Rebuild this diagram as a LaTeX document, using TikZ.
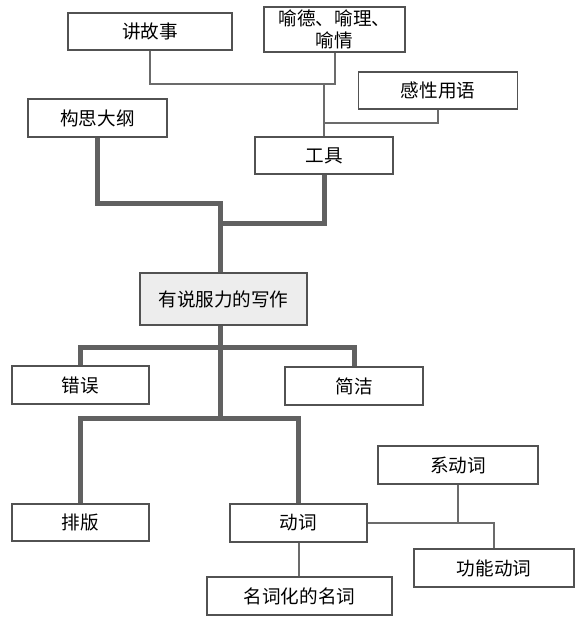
\documentclass[tikz,border=0pt]{standalone}
\usepackage{fontspec}
\newfontfamily\cjk{Noto Sans CJK SC}
\usetikzlibrary{positioning, calc}

\tikzset{
  box/.style={draw=black!68, line width=1.2pt, fill=white, inner sep=0pt,
    align=center, font=\cjk\fontsize{18.6}{21.5}\selectfont},
  thinline/.style={draw=black!58, line width=2pt},
  thickline/.style={draw=black!62, line width=5pt},
}

\begin{document}
\begin{tikzpicture}[x=1pt,y=-1pt]
  \useasboundingbox (0,0) rectangle (584,625);
  % upper part
  \node[box, minimum width=164pt, minimum height=37pt] (story) at (150,31.5) {讲故事};
  \node[box, minimum width=141pt, minimum height=45pt] (yu) at (334.5,29.5) {喻德、喻理、\\喻情};
  \node[box, minimum width=159pt, minimum height=37pt] (emotive) at (438,90.5) {感性用语};
  \node[box, minimum width=139pt, minimum height=38pt] (outline) at (97.5,118) {构思大纲};
  \node[box, minimum width=138pt, minimum height=37pt] (tools) at (324,155.5) {工具};
  \node[box, minimum width=167pt, minimum height=52pt, fill=black!7] (main) at (223.5,299) {有说服力的写作};
  % lower part
  \node[box, minimum width=137pt, minimum height=38pt] (errors) at (80.5,385) {错误};
  \node[box, minimum width=138pt, minimum height=38pt] (concise) at (354,386) {简洁};
  \node[box, minimum width=137pt, minimum height=37pt] (layout) at (80.5,522.5) {排版};
  \node[box, minimum width=137pt, minimum height=38pt] (verbs) at (298.5,523) {动词};
  \node[box, minimum width=160pt, minimum height=38pt] (linkverb) at (458,465) {系动词};
  \node[box, minimum width=160pt, minimum height=38pt] (funcverb) at (494,568) {功能动词};
  \node[box, minimum width=185pt, minimum height=38pt] (nominal) at (299.5,596) {名词化的名词};

  \coordinate (toolhub) at (324,84);
  \coordinate (gansplit) at (324,123);
  \coordinate (tophub) at (220,203);
  \coordinate (tophub2) at (220,223);
  \coordinate (lowhub) at (220,347);
  \coordinate (lowhub2) at (220,418);

  % thin connectors
  \draw[thinline] (story.south) |- (yu.south |- toolhub) -- (yu.south);
  \draw[thinline] (toolhub) -- (tools.north);
  \draw[thinline] (emotive.south) |- (gansplit);
  \draw[thinline] (verbs.east) -| (funcverb.north);
  \draw[thinline] (linkverb.south) -- (linkverb.south |- verbs.east);
  \draw[thinline] (verbs.south) -- (verbs.south |- nominal.north);

  % thick connectors
  \draw[thickline] (outline.south) |- (tophub) -- (tophub |- main.north);
  \draw[thickline] (tools.south) |- (tophub2);
  \draw[thickline] (lowhub |- main.south) -- (lowhub2);
  \draw[thickline] (errors.north) |- (lowhub) -| (concise.north);
  \draw[thickline] (layout.north) |- (lowhub2) -| (verbs.north);
\end{tikzpicture}
\end{document}
